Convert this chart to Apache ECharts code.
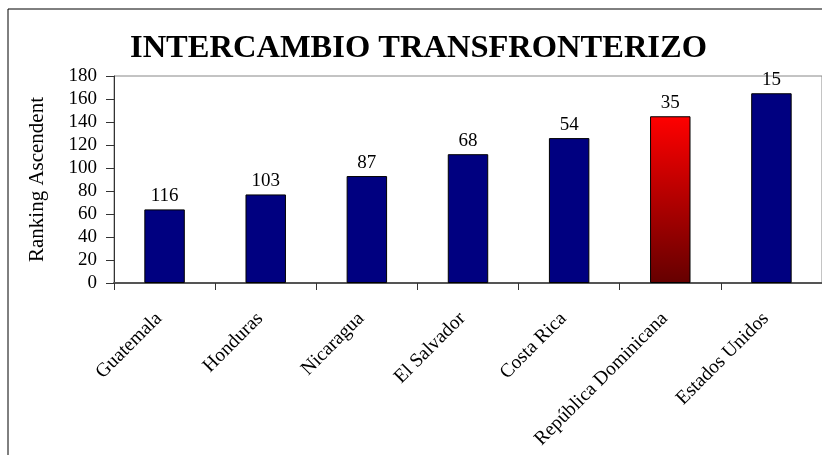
<!DOCTYPE html>
<html>
<head>
<meta charset="utf-8">
<script src="https://cdn.jsdelivr.net/npm/echarts@6/dist/echarts.min.js"></script>
<style>
  html, body { margin: 0; padding: 0; background: #fff; }
  #chart { width: 822px; height: 455px; }
</style>
</head>
<body>
<div id="chart"></div>
<script>
// datos del gráfico
const paises = ['Guatemala', 'Honduras', 'Nicaragua', 'El Salvador', 'Costa Rica', 'República Dominicana', 'Estados Unidos'];
const ranking = [116, 103, 87, 68, 54, 35, 15];          // posición mostrada sobre cada barra
const alturas = [64, 77, 93, 112, 126, 145, 165];         // ranking ascendente (altura de barra)
const ticksY = [0, 20, 40, 60, 80, 100, 120, 140, 160, 180];

const SERIF = '"Liberation Serif", "DejaVu Serif", serif';
const destacado = 'República Dominicana';

const chart = echarts.init(document.getElementById('chart'));

const datos = alturas.map((v, i) => {
    const item = { value: v, rank: ranking[i] };
    if (paises[i] === destacado) {
        item.itemStyle = {
            color: new echarts.graphic.LinearGradient(0, 0, 0, 1, [
                { offset: 0, color: '#ff0000' },
                { offset: 1, color: '#650000' }
            ])
        };
    }
    return item;
});

chart.setOption({
    animation: false,
    title: {
        text: 'INTERCAMBIO TRANSFRONTERIZO',
        left: 125,
        top: 27,
        textStyle: { fontFamily: SERIF, fontWeight: 'bold', fontSize: 32.5, color: '#000' }
    },
    graphic: [
        // marco exterior (solo borde superior e izquierdo visibles)
        { type: 'line', shape: { x1: 8, y1: 9, x2: 822, y2: 9 }, style: { stroke: '#000', lineWidth: 1 } },
        { type: 'line', shape: { x1: 8, y1: 9, x2: 8, y2: 455 }, style: { stroke: '#000', lineWidth: 1 } }
    ],
    grid: {
        left: 114, top: 76, width: 710, height: 207,
        show: true, borderColor: '#888', borderWidth: 1
    },
    xAxis: {
        type: 'category',
        data: paises,
        axisLine: { lineStyle: { color: '#555', width: 2 } },
        axisTick: { show: true, length: 7, inside: false, lineStyle: { color: '#333' } },
        axisLabel: {
            interval: 0, rotate: 45, margin: 27, padding: [0, 8, 0, 0],
            fontFamily: SERIF, fontSize: 19.5, color: '#000'
        }
    },
    yAxis: {
        type: 'value',
        min: 0, max: 180, interval: 20,
        name: 'Ranking Ascendent',
        nameLocation: 'middle',
        nameGap: 66,
        nameTextStyle: { fontFamily: SERIF, fontSize: 21, color: '#000' },
        axisLine: { show: true, lineStyle: { color: '#333', width: 1 } },
        axisTick: { show: true, length: 8, lineStyle: { color: '#333' } },
        splitLine: { show: false },
        axisLabel: {
            margin: 17, fontFamily: SERIF, fontSize: 19, color: '#000',
            formatter: v => ticksY.includes(v) ? String(v) : ''
        }
    },
    series: [{
        type: 'bar',
        data: datos,
        barWidth: '40%',
        itemStyle: { color: '#000080', borderColor: '#000', borderWidth: 1 },
        label: {
            show: true, position: 'top', distance: 4,
            fontFamily: SERIF, fontSize: 19, color: '#000',
            formatter: p => String(p.data.rank)
        }
    }]
});
</script>
</body>
</html>
